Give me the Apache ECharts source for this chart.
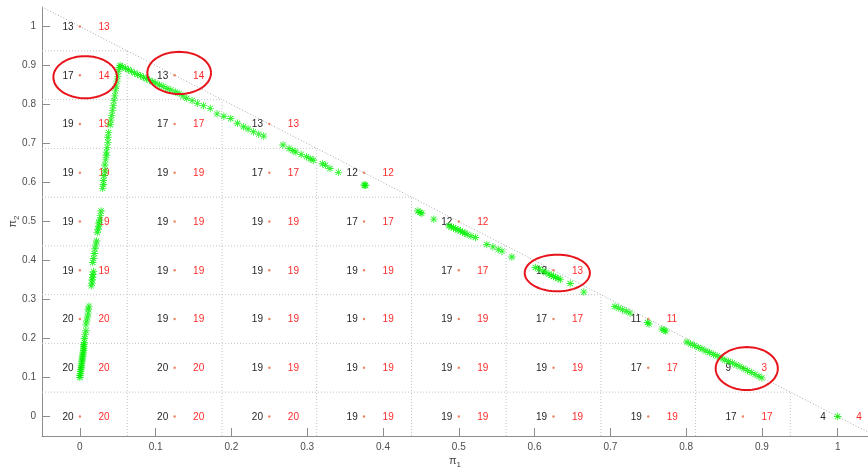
<!DOCTYPE html>
<html>
<head>
<meta charset="utf-8">
<script src="https://cdn.jsdelivr.net/npm/echarts@6/dist/echarts.min.js"></script>
<style>html,body{margin:0;padding:0;background:#fff}#c{width:868px;height:472px}</style>
</head>
<body>
<div id="c"></div>
<script>
// ---- data ----
const xTicks = [0, 0.1, 0.2, 0.3, 0.4, 0.5, 0.6, 0.7, 0.8, 0.9, 1];
const yTicks = [0, 0.1, 0.2, 0.3, 0.4, 0.5, 0.6, 0.7, 0.8, 0.9, 1];
const colX = [0, 0.125, 0.25, 0.375, 0.5, 0.625, 0.75, 0.875, 1];
const rowY = [0, 0.125, 0.25, 0.375, 0.5, 0.625, 0.75, 0.875, 1];
// black (left) numbers per row (row j, columns i = 0..8-j)
const blackRows = [
  [20, 20, 20, 19, 19, 19, 19, 17, 4],
  [20, 20, 19, 19, 19, 19, 17, 9],
  [20, 19, 19, 19, 19, 17, 11],
  [19, 19, 19, 19, 17, 12],
  [19, 19, 19, 17, 12],
  [19, 19, 17, 12],
  [19, 17, 13],
  [17, 13],
  [13]
];
// red (right) numbers per row
const redRows = [
  [20, 20, 20, 19, 19, 19, 19, 17, 4],
  [20, 20, 19, 19, 19, 19, 17, 3],
  [20, 19, 19, 19, 19, 17, 11],
  [19, 19, 19, 19, 17, 13],
  [19, 19, 19, 17, 12],
  [19, 19, 17, 12],
  [19, 17, 13],
  [14, 14],
  [13]
];
// region boundary levels (dotted staircase)
const boundaryLevels = [1/16, 3/16, 5/16, 7/16, 9/16, 11/16, 13/16, 15/16];
const diagonal = [[-0.05, 1.05], [1.05, -0.05]];
// green trajectory points
const greenX = [
  0.000,0.000,0.001,0.001,0.001,0.002,0.002,0.002,0.003,0.003,0.003,0.004,0.004,0.004,0.005,0.005,0.005,0.005,0.006,
  0.006,0.007,0.008,0.008,0.009,0.010,0.011,0.011,0.012,
  0.015,0.016,0.016,0.017,0.017,0.018,
  0.017,0.018,0.019,0.020,0.021,0.022,
  0.023,0.024,0.025,0.025,0.026,0.027,0.028,
  0.030,0.031,0.031,
  0.032,0.033,0.033,0.034,0.035,0.035,
  0.036,0.037,0.037,0.038,
  0.040,0.041,0.042,0.043,0.044,0.045,0.046,0.047,0.048,0.049,0.050,0.051,0.052,0.053,
  0.056,0.060,0.064,0.068,0.072,0.076,0.080,0.084,0.088,0.092,0.096,0.100,0.105,0.110,0.115,0.120,0.126,0.131,0.136,0.141,0.148,0.155,0.163,0.172,0.181,0.190,0.199,0.208,0.216,0.222,0.229,0.236,0.2425,
  0.268,0.276,0.281,0.285,0.292,0.299,0.304,0.308,0.320,0.324,0.330,0.341,0.375,0.376,0.377,
  0.446,0.449,0.451,0.467,
  0.487,0.490,0.493,0.496,0.499,0.502,0.505,0.508,0.511,0.516,0.522,
  0.537,0.545,0.552,0.557,0.570,
  0.601,0.606,0.611,0.615,0.619,0.622,0.625,0.628,0.631,0.634,0.647,0.665,
  0.706,0.711,0.716,0.721,0.726,0.749,0.751,
  0.768,0.771,0.773,
  0.801,0.806,0.811,0.816,0.821,0.826,0.831,0.836,0.841,0.846,0.851,0.856,0.861,0.866,0.871,0.876,0.881,0.886,0.891,0.896,0.900,
  1.000
];
const greenY = [
  0.100,0.105,0.110,0.115,0.120,0.125,0.130,0.135,0.140,0.145,0.150,0.155,0.160,0.165,0.170,0.175,0.180,0.185,0.190,
  0.200,0.210,0.220,0.235,0.245,0.255,0.265,0.275,0.283,
  0.335,0.342,0.350,0.357,0.364,0.372,
  0.395,0.405,0.418,0.430,0.440,0.450,
  0.472,0.480,0.488,0.496,0.504,0.515,0.527,
  0.585,0.595,0.605,
  0.618,0.630,0.645,0.658,0.670,0.678,
  0.690,0.703,0.716,0.728,
  0.748,0.760,0.772,0.785,0.797,0.810,0.822,0.835,0.847,0.860,0.872,0.885,0.895,0.900,
  0.897,0.893,0.889,0.885,0.881,0.877,0.874,0.870,0.866,0.862,0.858,0.855,0.850,0.846,0.841,0.837,0.832,0.828,0.822,0.816,0.810,0.803,0.797,0.790,0.776,0.770,0.764,0.752,0.743,0.737,0.730,0.724,0.719,
  0.696,0.687,0.682,0.678,0.672,0.666,0.661,0.657,0.648,0.644,0.636,0.626,0.594,0.592,0.593,
  0.527,0.523,0.521,0.506,
  0.489,0.486,0.484,0.481,0.479,0.476,0.473,0.470,0.467,0.463,0.459,
  0.441,0.435,0.428,0.424,0.409,
  0.382,0.378,0.373,0.369,0.365,0.362,0.359,0.357,0.354,0.351,0.341,0.319,
  0.282,0.278,0.274,0.270,0.265,0.241,0.237,
  0.224,0.221,0.219,
  0.191,0.186,0.182,0.177,0.173,0.168,0.164,0.159,0.155,0.150,0.145,0.141,0.137,0.132,0.128,0.123,0.118,0.113,0.108,0.103,0.099,
  0.000
];
// highlighted ellipses: centre x, centre y, half width, half height (data units)
const ellipseCX = [0.007, 0.131, 0.630, 0.880];
const ellipseCY = [0.870, 0.881, 0.368, 0.123];
const ellipseRX = [0.042, 0.042, 0.043, 0.041];
const ellipseRY = [0.054, 0.054, 0.047, 0.055];

// ---- build ----
const cellData = [], blackData = [], redData = [];
rowY.forEach((y, j) => {
  blackRows[j].forEach((v, i) => {
    cellData.push([colX[i], y]);
    blackData.push([colX[i], y, v]);
    redData.push([colX[i], y, redRows[j][i]]);
  });
});
const greenData = greenX.map((x, k) => [x, greenY[k]]);
const segData = [];
boundaryLevels.forEach(L => {
  segData.push([-0.05, L, 1 - L, L]);   // horizontal
  segData.push([L, -0.05, L, 1 - L]);   // vertical
});
const ellipseData = ellipseCX.map((x, k) => [x, ellipseCY[k], ellipseRX[k], ellipseRY[k]]);

const FONT = '"Liberation Sans", Arial, sans-serif';
const asterisk = 'path://M-0.6,-5L0.6,-5L0.6,5L-0.6,5Z M-5,-0.6L5,-0.6L5,0.6L-5,0.6Z M-3.96,-3.11L-3.11,-3.96L3.96,3.11L3.11,3.96Z M3.11,-3.96L3.96,-3.11L-3.11,3.96L-3.96,3.11Z';

function textSeries(data, color, dx) {
  return {
    type: 'custom', data: data, z: 3,
    renderItem: function (params, api) {
      const p = api.coord([api.value(0), api.value(1)]);
      return {
        type: 'text',
        style: {
          x: p[0] + dx, y: p[1] + 0.5, text: String(api.value(2)),
          fill: color, font: '10px ' + FONT, textAlign: 'left', textVerticalAlign: 'middle'
        }
      };
    }
  };
}

const chart = echarts.init(document.getElementById('c'), null, { renderer: 'canvas' });
chart.setOption({
  animation: false,
  backgroundColor: '#fff',
  grid: { left: 42, right: 0, top: 7, bottom: 36, containLabel: false, outerBoundsMode: 'none' },
  xAxis: {
    type: 'value', min: -0.05, max: 1.04,
    name: '{p|π}{s|1}', nameLocation: 'middle', nameGap: 17, nameMoveOverlap: false,
    nameTextStyle: { rich: { p: { fontSize: 11, color: '#444', fontFamily: FONT }, s: { fontSize: 8, color: '#444', fontFamily: FONT, padding: [8, 0, 0, 0] } } },
    axisLine: { show: true, onZero: false, lineStyle: { color: '#8c8c8c', width: 1 } },
    axisTick: { show: true, inside: true, length: 8, customValues: xTicks, lineStyle: { color: '#8c8c8c' } },
    axisLabel: { customValues: xTicks, color: '#4d4d4d', fontSize: 10, fontFamily: FONT, margin: 6, formatter: v => String(+v.toFixed(1)) },
    splitLine: { show: false }
  },
  yAxis: {
    type: 'value', min: -0.05, max: 1.05,
    name: '{p|π}{s|2}', nameLocation: 'middle', nameGap: 21, nameRotate: 90, nameMoveOverlap: false,
    nameTextStyle: { rich: { p: { fontSize: 11, color: '#444', fontFamily: FONT }, s: { fontSize: 8, color: '#444', fontFamily: FONT, padding: [8, 0, 0, 0] } } },
    axisLine: { show: true, onZero: false, lineStyle: { color: '#8c8c8c', width: 1 } },
    axisTick: { show: true, inside: true, length: 8, customValues: yTicks, lineStyle: { color: '#8c8c8c' } },
    axisLabel: { customValues: yTicks, color: '#4d4d4d', fontSize: 10, fontFamily: FONT, margin: 6, formatter: v => String(+v.toFixed(1)) },
    splitLine: { show: false }
  },
  series: [
    {
      type: 'custom', data: segData, z: 1, silent: true,
      renderItem: function (params, api) {
        const a = api.coord([api.value(0), api.value(1)]);
        const b = api.coord([api.value(2), api.value(3)]);
        return { type: 'line', shape: { x1: a[0], y1: a[1], x2: b[0], y2: b[1] },
          style: { stroke: '#c4c4c4', lineWidth: 1, lineDash: [1, 2] } };
      }
    },
    {
      type: 'line', data: diagonal, z: 1, symbol: 'none', silent: true,
      lineStyle: { color: '#a8a8a8', width: 1, type: [1, 2] }
    },
    {
      type: 'scatter', data: cellData, z: 2, symbol: 'circle', symbolSize: 2.4,
      itemStyle: { color: '#e8643a' }
    },
    textSeries(blackData, '#262626', -17.5),
    textSeries(redData, '#ff2b2b', 18.5),
    {
      type: 'scatter', data: greenData, z: 4, symbol: asterisk, symbolSize: 7.5,
      itemStyle: { color: '#00f000' }
    },
    {
      type: 'custom', data: ellipseData, z: 5, silent: true,
      renderItem: function (params, api) {
        const c = api.coord([api.value(0), api.value(1)]);
        const s = api.size([api.value(2), api.value(3)]);
        const pts = [];
        for (let k = 0; k <= 72; k++) {
          const t = k / 72 * Math.PI * 2;
          pts.push([c[0] + s[0] * Math.cos(t), c[1] + s[1] * Math.sin(t)]);
        }
        return { type: 'polyline', shape: { points: pts },
          style: { stroke: '#e8141c', lineWidth: 2, fill: null } };
      }
    }
  ]
});
</script>
</body>
</html>
